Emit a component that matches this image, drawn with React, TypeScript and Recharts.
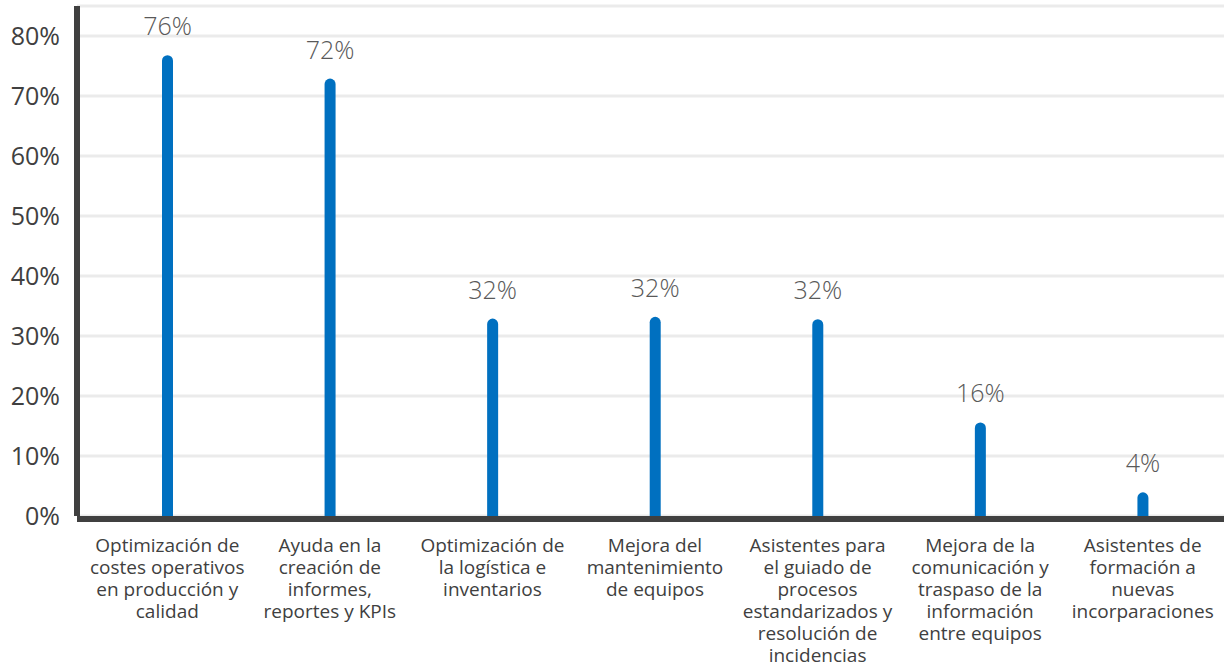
import React from "react";
import { BarChart, Bar, XAxis, YAxis, CartesianGrid, LabelList } from "recharts";

const categories = [
  "Optimización de\ncostes operativos\nen producción y\ncalidad",
  "Ayuda en la\ncreación de\ninformes,\nreportes y KPIs",
  "Optimización de\nla logística e\ninventarios",
  "Mejora del\nmantenimiento\nde equipos",
  "Asistentes para\nel guiado de\nprocesos\nestandarizados y\nresolución de\nincidencias",
  "Mejora de la\ncomunicación y\ntraspaso de la\ninformación\nentre equipos",
  "Asistentes de\nformación a\nnuevas\nincorparaciones",
];
const values = [76.8, 72.9, 32.9, 33.2, 32.8, 15.6, 3.95];
const valueLabels = ["76%", "72%", "32%", "32%", "32%", "16%", "4%"];
const yTicks = [0, 10, 20, 30, 40, 50, 60, 70, 80];

const data = categories.map((c, i) => ({ name: c, value: values[i], label: valueLabels[i] }));

const FONT = "'Open Sans', 'Noto Sans', sans-serif";

const XTick = (props: any) => {
  const { x, y, payload } = props;
  const lines = String(payload.value).split("\n");
  return (
    <text x={x} y={y} textAnchor="middle" fill="#404040" fontSize={19} fontFamily={FONT}>
      {lines.map((l, i) => (
        <tspan key={i} x={x} dy={i === 0 ? 28 : 22}>
          {l}
        </tspan>
      ))}
    </text>
  );
};

export default function App() {
  return (
    <div style={{ position: "absolute", left: 0, top: 0, width: 1224, height: 663, background: "#fff" }}>
      <BarChart
        width={1224}
        height={663}
        data={data}
        margin={{ top: 6, right: 0, bottom: 0, left: 0 }}
        barCategoryGap={0}
      >
        <CartesianGrid vertical={false} stroke="#ebebeb" strokeWidth={3} />
        <XAxis
          dataKey="name"
          interval={0}
          height={147}
          padding={{ left: 9, right: 0 }}
          tickLine={false}
          axisLine={{ stroke: "#404040", strokeWidth: 6, transform: "translate(0,3)" } as any}
          tick={<XTick />}
        />
        <YAxis
          width={77}
          domain={[0, 85]}
          ticks={yTicks}
          tickFormatter={(v: number) => `${v}%`}
          tickLine={false}
          tickSize={6}
          tickMargin={11}
          axisLine={{ stroke: "#404040", strokeWidth: 6 }}
          tick={{ fill: "#404040", fontSize: 25, fontFamily: FONT }}
          allowDataOverflow
        />
        <Bar dataKey="value" fill="#0070c0" barSize={11} radius={[6, 6, 0, 0]} isAnimationActive={false}>
          <LabelList
            dataKey="label"
            position="top"
            offset={20}
            fill="#595959"
            fontSize={25}
            fontFamily={FONT}
            fontWeight={300}
          />
        </Bar>
      </BarChart>
    </div>
  );
}
